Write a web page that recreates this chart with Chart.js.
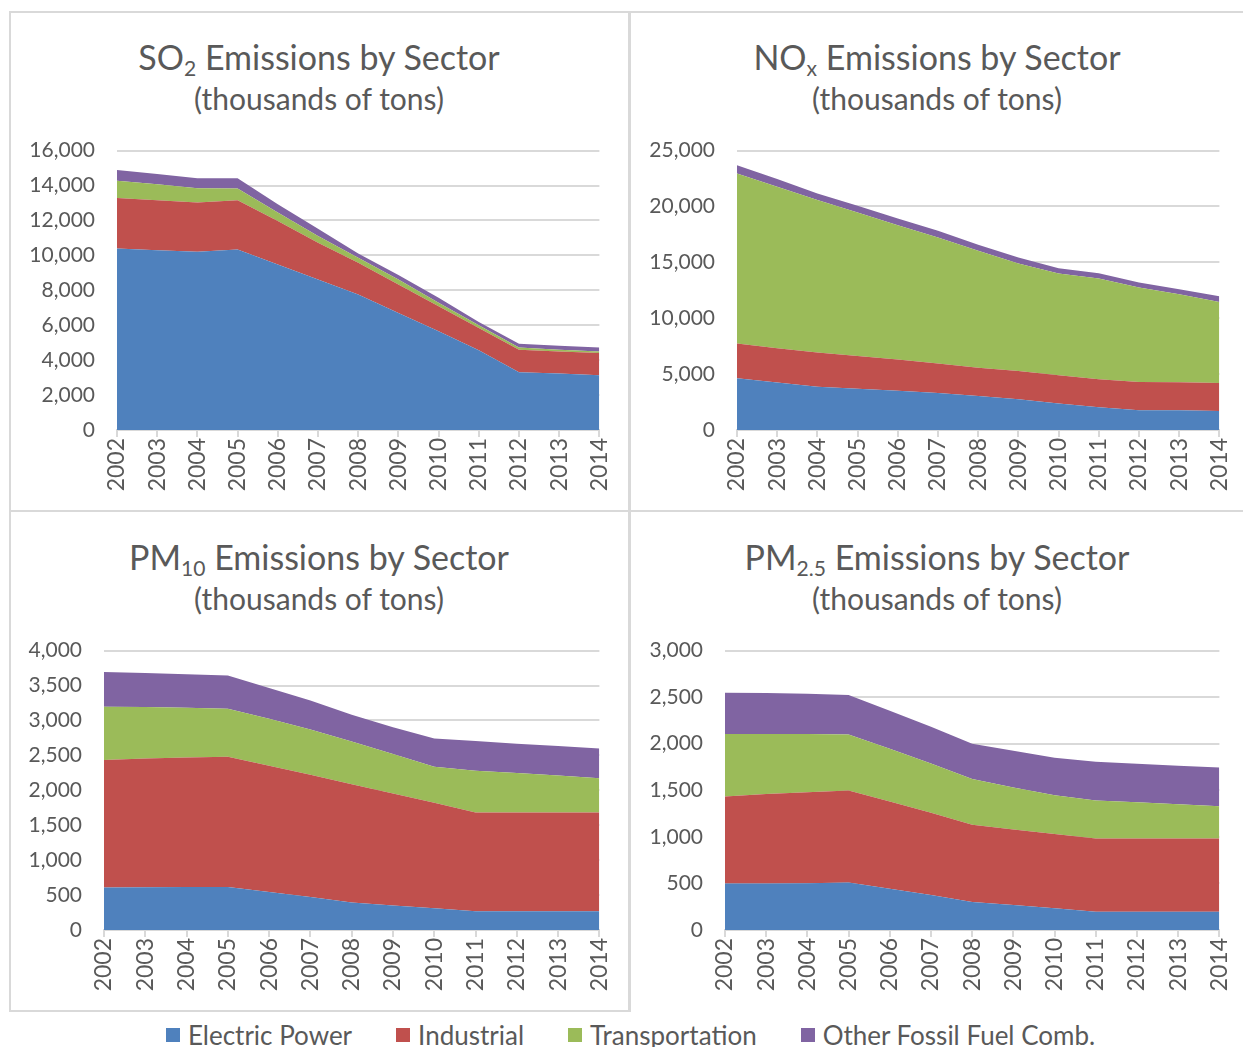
<!DOCTYPE html>
<html>
<head>
<meta charset="utf-8">
<script src="https://cdn.jsdelivr.net/npm/chart.js@4/dist/chart.umd.min.js"></script>
<style>
  body { margin: 0; width: 1243px; height: 1047px; background: #fff; overflow: hidden; position: relative; font-family: Lato, sans-serif; color: #595959; }
  .line { position: absolute; background: #d9d9d9; }
  .ttl { position: absolute; text-align: center; white-space: nowrap; line-height: 1; }
  .ttl.main { font-size: 34px; }
  .ttl.sub { font-size: 30px; }
  .ttl sub { font-size: 0.62em; vertical-align: -0.3em; line-height: 0; }
  canvas { position: absolute; }
  #legend { position: absolute; left: 0; width: 1225px; padding-left: 18px; top: 1020px; height: 30px; display: flex; justify-content: center; align-items: center; font-size: 26px; }
  #legend span.item { display: flex; align-items: center; margin: 0 22px; }
  #legend i { display: inline-block; width: 14px; height: 14px; margin-right: 8px; }
</style>
</head>
<body>
<div class="line" style="left:9px;top:11px;width:1234px;height:2px"></div>
<div class="line" style="left:9px;top:11px;width:2px;height:1001px"></div>
<div class="line" style="left:628px;top:11px;width:3px;height:1001px"></div>
<div class="line" style="left:9px;top:510px;width:1234px;height:2px"></div>
<div class="line" style="left:9px;top:1010px;width:621px;height:2px"></div>

<div class="ttl main" style="left:10px;width:618px;top:40px">SO<sub>2</sub> Emissions by Sector</div>
<div class="ttl sub" style="left:10px;width:618px;top:83px">(thousands of tons)</div>
<div class="ttl main" style="left:631px;width:612px;top:40px">NO<sub>x</sub> Emissions by Sector</div>
<div class="ttl sub" style="left:631px;width:612px;top:83px">(thousands of tons)</div>
<div class="ttl main" style="left:10px;width:618px;top:540px">PM<sub>10</sub> Emissions by Sector</div>
<div class="ttl sub" style="left:10px;width:618px;top:583px">(thousands of tons)</div>
<div class="ttl main" style="left:631px;width:612px;top:540px">PM<sub>2.5</sub> Emissions by Sector</div>
<div class="ttl sub" style="left:631px;width:612px;top:583px">(thousands of tons)</div>

<canvas id="so2" width="618" height="389" style="left:10px;top:116px"></canvas>
<canvas id="nox" width="616" height="389" style="left:632px;top:116px"></canvas>
<canvas id="pm10" width="618" height="389" style="left:10px;top:616px"></canvas>
<canvas id="pm25" width="616" height="389" style="left:632px;top:616px"></canvas>

<div id="legend"></div>

<script>
const years = ['2002', '2003', '2004', '2005', '2006', '2007', '2008', '2009', '2010', '2011', '2012', '2013', '2014']
const sectors = ['Electric Power', 'Industrial', 'Transportation', 'Other Fossil Fuel Comb.']
const colors = ['#4f81bd', '#c0504d', '#9bbb59', '#8064a2']

// thousands of tons
const so2Electric = [10400, 10300, 10210, 10340, 9480, 8620, 7760, 6700, 5650, 4560, 3310, 3240, 3140]
const so2Industrial = [2880, 2860, 2820, 2820, 2490, 2110, 1820, 1630, 1440, 1280, 1290, 1260, 1270]
const so2Transport = [990, 920, 820, 670, 480, 380, 290, 290, 190, 160, 130, 100, 90]
const so2Other = [620, 580, 560, 580, 480, 420, 240, 250, 290, 190, 210, 230, 230]

const noxElectric = [4630, 4240, 3880, 3700, 3520, 3310, 3040, 2750, 2360, 2030, 1760, 1760, 1700]
const noxIndustrial = [3100, 3070, 3050, 2930, 2780, 2630, 2540, 2530, 2540, 2510, 2540, 2510, 2510]
const noxTransport = [15230, 14450, 13640, 12830, 12030, 11280, 10450, 9620, 9100, 9010, 8450, 7880, 7250]
const noxOther = [740, 690, 590, 600, 600, 600, 540, 530, 480, 480, 440, 450, 510]

const pm10Electric = [607, 612, 616, 616, 545, 473, 392, 349, 311, 268, 268, 268, 268]
const pm10Industrial = [1825, 1844, 1855, 1864, 1806, 1749, 1696, 1606, 1510, 1414, 1414, 1414, 1414]
const pm10Transport = [765, 736, 712, 688, 674, 650, 612, 564, 516, 598, 564, 531, 492]
const pm10Other = [497, 488, 478, 474, 440, 412, 382, 382, 406, 425, 421, 420, 426]

const pm25Electric = [498, 498, 502, 509, 444, 376, 301, 269, 233, 197, 197, 197, 197]
const pm25Industrial = [936, 961, 978, 989, 936, 882, 828, 810, 799, 785, 785, 785, 785]
const pm25Transport = [670, 645, 624, 602, 566, 531, 491, 451, 416, 409, 391, 369, 348]
const pm25Other = [444, 441, 434, 423, 409, 394, 380, 395, 401, 415, 412, 412, 416]

const txt = '#595959'
const grid = '#d9d9d9'

function makeChart(id, series, yMax, step, yWidth, padRight) {
    return new Chart(document.getElementById(id), {
        type: 'line',
        data: {
            labels: years,
            datasets: series.map((d, i) => ({
                label: sectors[i],
                data: d,
                backgroundColor: colors[i],
                borderWidth: 0,
                pointRadius: 0,
                fill: i === 0 ? 'origin' : '-1'
            }))
        },
        options: {
            responsive: false,
            animation: false,
            layout: { padding: { top: 15, right: padRight, left: 0, bottom: 0 } },
            plugins: { legend: { display: false }, tooltip: { enabled: false } },
            scales: {
                x: {
                    grid: { drawOnChartArea: false, color: grid, lineWidth: 2, tickLength: 7 },
                    border: { color: grid, width: 2 },
                    ticks: { color: txt, font: { family: 'Lato', size: 23 }, minRotation: 90, maxRotation: 90, padding: 1, autoSkip: false },
                    afterFit: s => { s.height = 75 }
                },
                y: {
                    stacked: true,
                    min: 0,
                    max: yMax,
                    grid: { color: grid, lineWidth: 2, drawTicks: false },
                    border: { display: false },
                    ticks: { stepSize: step, color: txt, font: { family: 'Lato', size: 21 }, padding: 22,
                        callback: v => v.toLocaleString('en-US') },
                    afterFit: s => { s.width = yWidth }
                }
            }
        }
    })
}

makeChart('so2', [so2Electric, so2Industrial, so2Transport, so2Other], 16000, 2000, 107, 10)
makeChart('nox', [noxElectric, noxIndustrial, noxTransport, noxOther], 25000, 5000, 105, 10)
makeChart('pm10', [pm10Electric, pm10Industrial, pm10Transport, pm10Other], 4000, 500, 94, 10)
makeChart('pm25', [pm25Electric, pm25Industrial, pm25Transport, pm25Other], 3000, 500, 93, 10)

const legend = document.getElementById('legend')
sectors.forEach((name, i) => {
    const item = document.createElement('span')
    item.className = 'item'
    item.innerHTML = '<i style="background:' + colors[i] + '"></i>' + name
    legend.appendChild(item)
})
</script>
</body>
</html>
